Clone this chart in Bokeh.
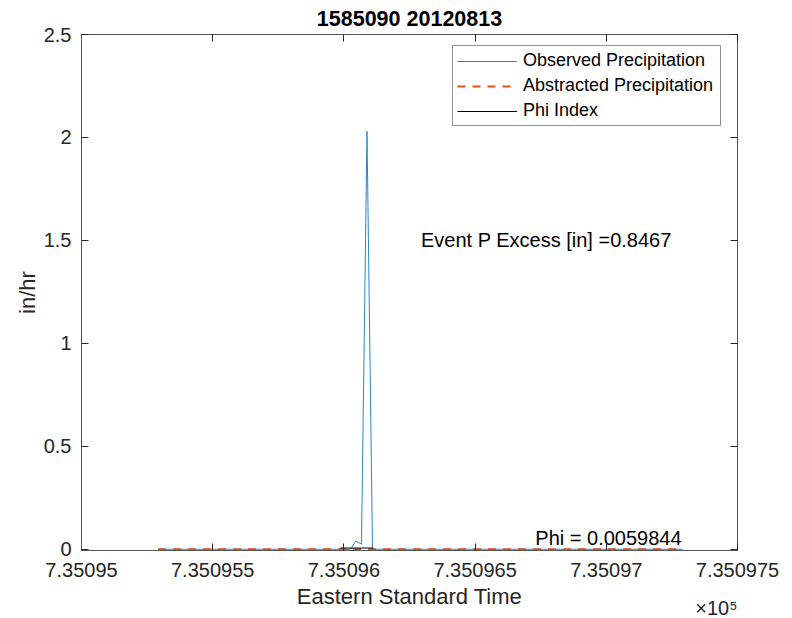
from bokeh.plotting import figure
from bokeh.models import Range1d, FixedTicker, LinearAxis, Label, Legend, LegendItem, Title
from bokeh.embed import file_html
from bokeh.resources import INLINE

# ---------------- data ----------------
title_text = "1585090 20120813"
x_label = "Eastern Standard Time"
y_label = "in/hr"
exponent_text = "\u00d710\u2075"

# observed precipitation (datenum days, in/hr)
obs_time = [735095.2917, 735096.0250, 735096.0460, 735096.0670, 735096.0880, 735096.1090, 735097.2917]
obs_rate = [0.0, 0.0, 0.04, 0.025, 2.03, 0.0, 0.0]

# abstracted precipitation
abs_time = [735095.2917, 735097.2917]
abs_rate = [0.0, 0.0]

# phi index over the event
phi_value = 0.0059844
phi_time = [735095.986, 735096.112]
phi_rate = [phi_value, phi_value]

event_excess = 0.8467
excess_text_pos = (735096.2937, 1.504)
phi_text_pos = (735096.7295, 0.053)

x_ticks = [735095.0, 735095.5, 735096.0, 735096.5, 735097.0, 735097.5]
x_tick_labels = ["7.35095", "7.350955", "7.35096", "7.350965", "7.35097", "7.350975"]
y_ticks = [0.0, 0.5, 1.0, 1.5, 2.0, 2.5]
y_tick_labels = ["0", "0.5", "1", "1.5", "2", "2.5"]

legend_labels = ["Observed Precipitation", "Abstracted Precipitation", "Phi Index"]

# ---------------- style ----------------
FONT = "Liberation Sans"
AX = "#262626"
FRAME = "#555555"
BLUE = "#2b86c9"
ORANGE = "#D95319"

x_lo, x_hi = x_ticks[0], x_ticks[-1]
y_lo, y_hi = y_ticks[0], y_ticks[-1]

p = figure(width=792, height=618, output_backend="svg", toolbar_location=None,
           x_range=Range1d(x_lo, x_hi), y_range=Range1d(y_lo - 0.006, y_hi),
           min_border_left=81, min_border_right=55, min_border_top=34, min_border_bottom=68,
           x_axis_label=x_label, y_axis_label=y_label)
p.grid.visible = False
p.outline_line_color = FRAME
p.outline_line_width = 1
p.background_fill_color = "white"
p.border_fill_color = "white"

p.title.text = title_text
p.title.align = "center"
p.title.text_font = FONT
p.title.text_font_size = "21.5px"
p.title.text_font_style = "bold"
p.title.text_color = "black"
p.title.standoff = 8

xa = p.xaxis[0]
ya = p.yaxis[0]
xa.ticker = FixedTicker(ticks=x_ticks)
ya.ticker = FixedTicker(ticks=y_ticks)
xa.major_label_overrides = {t: l for t, l in zip(x_ticks, x_tick_labels)}
ya.major_label_overrides = {t: l for t, l in zip(y_ticks, y_tick_labels)}
for ax in (xa, ya):
    ax.major_tick_in = 7
    ax.major_tick_out = 0
    ax.minor_tick_line_color = None
    ax.axis_line_color = FRAME
    ax.major_tick_line_color = AX
    ax.major_label_text_font = FONT
    ax.major_label_text_font_size = "20px"
    ax.major_label_text_color = AX
    ax.axis_label_text_font = FONT
    ax.axis_label_text_font_size = "22px"
    ax.axis_label_text_font_style = "normal"
    ax.axis_label_text_color = AX
xa.major_label_standoff = 12
xa.axis_label_standoff = 4
ya.major_label_standoff = 10
ya.axis_label_standoff = 1

# mirrored ticks (box on), no labels
top_ax = LinearAxis(ticker=FixedTicker(ticks=x_ticks), major_label_text_font_size="1px",
                    major_label_text_color=None, major_label_standoff=0,
                    major_tick_in=7, major_tick_out=0, minor_tick_line_color=None,
                    axis_line_color=None, major_tick_line_color=AX)
right_ax = LinearAxis(ticker=FixedTicker(ticks=y_ticks), major_label_text_font_size="1px",
                      major_label_text_color=None, major_label_standoff=0,
                      major_tick_in=7, major_tick_out=0, minor_tick_line_color=None,
                      axis_line_color=None, major_tick_line_color=AX)
p.add_layout(top_ax, "above")
p.add_layout(right_ax, "right")

# x exponent (MATLAB style), right aligned under the axis
p.add_layout(Title(text=exponent_text, align="right", vertical_align="top", standoff=-30,
                   text_font=FONT, text_font_size="20px", text_font_style="normal",
                   text_color=AX), "below")

# ---------------- series ----------------
r_obs = p.line(obs_time, obs_rate, line_color=BLUE, line_width=1)
r_abs = p.line(abs_time, abs_rate, line_color=ORANGE, line_width=2, line_dash="8 7")
r_phi = p.line(phi_time, phi_rate, line_color="black", line_width=1)

legend = Legend(items=[LegendItem(label=legend_labels[0], renderers=[r_obs]),
                       LegendItem(label=legend_labels[1], renderers=[r_abs]),
                       LegendItem(label=legend_labels[2], renderers=[r_phi])],
                location=(371, 424), orientation="vertical",
                label_text_font=FONT, label_text_font_size="18px", label_text_color="black",
                glyph_width=60, glyph_height=20, label_height=20, label_width=193,
                spacing=4, padding=4, margin=0, label_standoff=6,
                border_line_color=AX, border_line_width=1,
                background_fill_color="white", background_fill_alpha=1)
p.add_layout(legend)

# ---------------- annotations ----------------
p.add_layout(Label(x=excess_text_pos[0], y=excess_text_pos[1],
                   text=f"Event P Excess [in] ={event_excess}",
                   text_font=FONT, text_font_size="20px", text_color="black",
                   text_align="left", text_baseline="alphabetic"))
p.add_layout(Label(x=phi_text_pos[0], y=phi_text_pos[1],
                   text=f"Phi = {phi_value}",
                   text_font=FONT, text_font_size="20px", text_color="black",
                   text_align="left", text_baseline="alphabetic"))

open("out.html", "w").write(file_html(p, INLINE))
